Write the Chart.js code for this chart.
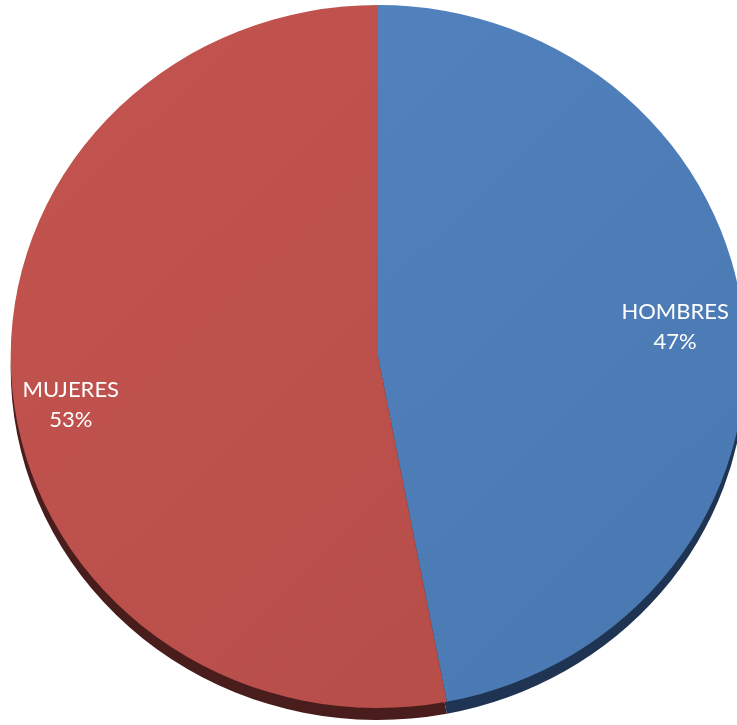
<!DOCTYPE html>
<html>
<head>
<meta charset="utf-8">
<script src="https://cdn.jsdelivr.net/npm/chart.js@4/dist/chart.umd.min.js"></script>
<style>
  html, body { margin: 0; padding: 0; background: #fff; }
  #wrap { width: 737px; height: 725px; }
</style>
</head>
<body>
<div id="wrap"><canvas id="myChart"></canvas></div>
<script>
// data
const labels = ["HOMBRES", "MUJERES"];
const values = [47, 53];
const colors = ["#4F81BD", "#C0504D"];
const sideColors = ["#1F3452", "#4A1D1D"];

// make pie a bit wider than tall, and paint the dark "3D" edge under it
const pie3d = {
  id: "pie3d",
  beforeDatasetsDraw(chart) {
    const ctx = chart.ctx;
    const arcs = chart.getDatasetMeta(0).data;
    const cx = arcs[0].x;
    ctx.save();
    ctx.translate(cx, 0);
    ctx.scale(1.045, 1);
    ctx.translate(-cx, 0);
    // side/shadow
    arcs.forEach((a, i) => {
      ctx.beginPath();
      ctx.moveTo(a.x, a.y + 12);
      ctx.arc(a.x, a.y + 12, a.outerRadius, a.startAngle, a.endAngle);
      ctx.closePath();
      ctx.fillStyle = sideColors[i];
      ctx.fill();
    });
  },
  afterDatasetsDraw(chart) {
    const ctx = chart.ctx;
    ctx.restore();
    const arcs = chart.getDatasetMeta(0).data;
    const total = values.reduce((s, v) => s + v, 0);
    const shifts = [[-10, -2], [0, 21]];
    ctx.save();
    ctx.fillStyle = "#fff";
    ctx.font = "22px Lato, sans-serif";
    ctx.textAlign = "center";
    ctx.textBaseline = "middle";
    arcs.forEach((a, i) => {
      const mid = (a.startAngle + a.endAngle) / 2;
      const r = a.outerRadius * 0.84;
      const x = a.x + Math.cos(mid) * r * 1.045 + shifts[i][0];
      const y = a.y + Math.sin(mid) * r + shifts[i][1];
      const pct = Math.round(values[i] / total * 100) + "%";
      ctx.fillText(labels[i], x, y - 15);
      ctx.fillText(pct, x, y + 15);
    });
    ctx.restore();
  }
};

function shade(ctx, i) {
  const area = ctx.chart.chartArea;
  if (!area) return colors[i];
  const g = ctx.chart.ctx.createLinearGradient(area.left, area.top, area.right, area.bottom);
  if (i === 0) {
    g.addColorStop(0, "#5585C2");
    g.addColorStop(1, "#4877B0");
  } else {
    g.addColorStop(0, "#C4544F");
    g.addColorStop(1, "#B34C48");
  }
  return g;
}

new Chart(document.getElementById("myChart"), {
  type: "pie",
  data: {
    labels: labels,
    datasets: [{
      data: values,
      backgroundColor: (c) => shade(c, c.dataIndex),
      borderWidth: 0
    }]
  },
  options: {
    responsive: true,
    maintainAspectRatio: false,
    animation: false,
    layout: { padding: { top: 5, bottom: 17, left: 19, right: 0 } },
    plugins: {
      legend: { display: false },
      tooltip: { enabled: false }
    }
  },
  plugins: [pie3d]
});
</script>
</body>
</html>
